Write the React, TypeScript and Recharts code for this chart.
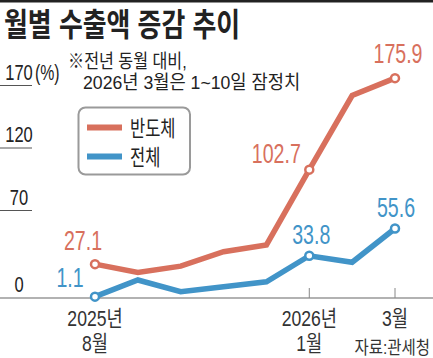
import React from 'react';
import { LineChart, Line, XAxis, YAxis, LabelList } from 'recharts';

const months = ['2025-08', '2025-09', '2025-10', '2025-11', '2025-12', '2026-01', '2026-02', '2026-03'];
const semiconductor = [27.1, 20.5, 25.5, 37, 42.5, 102.7, 162, 175.9];
const total = [1.1, 14.4, 5, 9, 13, 33.8, 28.6, 55.6];
const xTickLine1 = ['2025년', '', '', '', '', '2026년', '', '3월'];
const xTickLine2 = ['8월', '', '', '', '', '1월', '', ''];
const yTicks = [0, 70, 120, 170];
const labelledIdx = [0, 5, 7];

const RED = '#D8705D';
const BLUE = '#4194C8';
const FONT = '"Liberation Sans", "Noto Sans CJK KR", sans-serif';

const semiLabelOffsets: Record<number, [number, number]> = { 0: [-12, -14], 5: [-33, -7], 7: [3, -15] };
const totalLabelOffsets: Record<number, [number, number]> = { 0: [-25, -10], 5: [2, -12], 7: [1, -12] };

const data = months.map((m, i) => ({ month: m, semi: semiconductor[i], total: total[i] }));

function CText({ x, y, anchor = 'start', size, weight = 400, fill = '#222', sx = 0.72, children }: any) {
  return (
    <text
      transform={`translate(${x},${y}) scale(${sx},1)`}
      textAnchor={anchor}
      fontSize={size}
      fontWeight={weight}
      fill={fill}
      fontFamily={FONT}
    >
      {children}
    </text>
  );
}

const makeDot = (color: string) => (props: any) => {
  const { cx, cy, index } = props;
  if (!labelledIdx.includes(index)) return <g key={`d${index}`} />;
  return <circle key={`d${index}`} cx={cx} cy={cy} r={4} fill="#fff" stroke={color} strokeWidth={2.5} />;
};

const makeLabel = (color: string, offsets: Record<number, [number, number]>, values: number[]) => (props: any) => {
  const { x, y, value } = props;
  const i = props.index ?? values.indexOf(value);
  const off = offsets[i];
  if (!off) return null;
  return (
    <CText x={x + off[0]} y={y + off[1]} anchor="middle" size={28} fill={color} sx={0.7}>
      {value}
    </CText>
  );
};

const YTick = (props: any) => {
  const { y, payload } = props;
  const v = payload.value;
  return (
    <g>
      {v !== 0 && <line x1={0} x2={32} y1={y} y2={y} stroke="#555" strokeWidth={1} />}
      <CText x={19} y={y - 6} anchor="middle" size={22} fill="#222" sx={0.75}>{v}</CText>
      {v === 170 && <CText x={35} y={y - 6} size={22} fill="#222">(%)</CText>}
    </g>
  );
};

const XTick = (props: any) => {
  const { x, y, payload } = props;
  const i = months.indexOf(payload.value);
  return (
    <g>
      {(i === 5 || i === 7) && <line x1={x} x2={x} y1={y - 10} y2={y} stroke="#888" strokeWidth={1} />}
      {xTickLine1[i] && <CText x={x} y={y + 28} anchor="middle" size={22} fill="#333" sx={0.8}>{xTickLine1[i]}</CText>}
      {xTickLine2[i] && <CText x={x} y={y + 53} anchor="middle" size={22} fill="#333" sx={0.8}>{xTickLine2[i]}</CText>}
    </g>
  );
};

export default function App() {
  return (
    <div style={{ position: 'absolute', left: 0, top: 0, width: 433, height: 358, background: '#fff', overflow: 'hidden' }}>
      <div style={{ position: 'absolute', left: 0, top: 0 }}>
        <LineChart width={433} height={358} data={data} margin={{ top: 48, right: 0, bottom: 0, left: -40 }}>
          <XAxis
            dataKey="month"
            padding={{ left: 95, right: 38 }}
            axisLine={{ stroke: '#666', strokeWidth: 1.2 }}
            tickLine={false}
            tickSize={0}
            tickMargin={0}
            interval={0}
            tick={<XTick />}
            height={60}
          />
          <YAxis
            width={40}
            domain={[0, 200]}
            ticks={yTicks}
            interval={0}
            axisLine={false}
            tickLine={false}
            tick={<YTick />}
          />
          <Line
            dataKey="semi"
            stroke={RED}
            strokeWidth={5.5}
            dot={makeDot(RED)}
            isAnimationActive={false}
            type="linear"
          >
            <LabelList dataKey="semi" content={makeLabel(RED, semiLabelOffsets, semiconductor)} />
          </Line>
          <Line
            dataKey="total"
            stroke={BLUE}
            strokeWidth={5.5}
            dot={makeDot(BLUE)}
            isAnimationActive={false}
            type="linear"
          >
            <LabelList dataKey="total" content={makeLabel(BLUE, totalLabelOffsets, total)} />
          </Line>
        </LineChart>
      </div>
      <svg width={433} height={358} style={{ position: 'absolute', left: 0, top: 0, pointerEvents: 'none' }}>
        <rect x={0} y={0} width={433} height={2.5} fill="#222" />
        <CText x={4} y={36} size={32} weight={700} fill="#222" sx={0.81}>월별 수출액 증감 추이</CText>
        <CText x={68} y={68} size={19} fill="#222" sx={0.85}>※전년 동월 대비,</CText>
        <CText x={83} y={89} size={19} fill="#222" sx={0.93}>2026년 3월은 1~10일 잠정치</CText>
        <rect x={78.5} y={107.5} width={111.5} height={67} rx={7} fill="#fff" stroke="#9a9a9a" strokeWidth={2} />
        <line x1={87} x2={122} y1={127.5} y2={127.5} stroke={RED} strokeWidth={6} />
        <line x1={87} x2={122} y1={156.5} y2={156.5} stroke={BLUE} strokeWidth={6} />
        <CText x={130} y={136} size={22} fill="#222" sx={0.75}>반도체</CText>
        <CText x={130} y={164.5} size={22} fill="#222" sx={0.75}>전체</CText>
        <CText x={430} y={354} anchor="end" size={18} fill="#333" sx={0.86}>자료:관세청</CText>
      </svg>
    </div>
  );
}
